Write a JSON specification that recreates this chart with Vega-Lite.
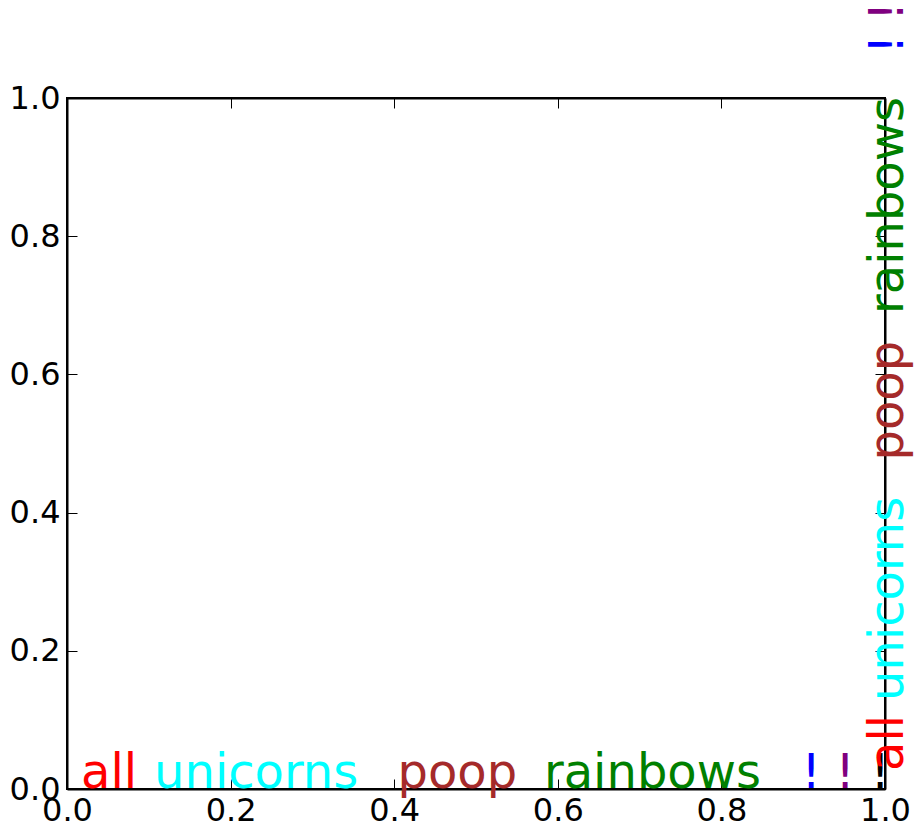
{
  "$schema": "https://vega.github.io/schema/vega-lite/v6.json",
  "width": 818,
  "height": 691,
  "autosize": {"type": "none"},
  "padding": {"left": 67, "top": 98, "right": 30, "bottom": 41},
  "background": "white",
  "config": {
    "view": {"stroke": "black", "strokeWidth": 2},
    "axis": {
      "domainColor": "black",
      "domainWidth": 2,
      "tickColor": "black",
      "tickWidth": 1,
      "tickSize": -10,
      "labelFont": "DejaVu Sans",
      "labelFontSize": 32,
      "labelColor": "black",
      "grid": false,
      "title": null,
      "labelFlush": false,
      "labelOverlap": false,
      "labelBound": false
    }
  },
  "datasets": {
    "horizontal": [
      {"word": "all", "part": 1, "x": 0.0171, "y": 0.0014},
      {"word": "unicorns", "part": 2, "x": 0.1064, "y": 0.0014},
      {"word": "poop", "part": 3, "x": 0.404, "y": 0.0014},
      {"word": "rainbows", "part": 4, "x": 0.5831, "y": 0.0014},
      {"word": "!", "part": 5, "x": 0.8978, "y": 0.0014},
      {"word": "!", "part": 6, "x": 0.9394, "y": 0.0014},
      {"word": "!", "part": 7, "x": 0.9822, "y": 0.0014}
    ],
    "vertical": [
      {"word": "all", "part": 1, "x": 1.022, "y": 0.026},
      {"word": "unicorns", "part": 2, "x": 1.022, "y": 0.1274},
      {"word": "poop", "part": 3, "x": 1.022, "y": 0.4754},
      {"word": "rainbows", "part": 4, "x": 1.022, "y": 0.6874},
      {"word": "!", "part": 5, "x": 1.022, "y": 1.0637},
      {"word": "!", "part": 6, "x": 1.022, "y": 1.1114}
    ]
  },
  "layer": [
    {
      "data": {"name": "horizontal"},
      "mark": {"type": "text", "font": "DejaVu Sans", "fontSize": 48, "align": "left", "baseline": "alphabetic", "clip": false},
      "encoding": {
        "x": {"field": "x", "type": "quantitative", "scale": {"domain": [0, 1], "nice": false, "zero": false},
              "axis": {"orient": "bottom", "values": [0, 0.2, 0.4, 0.6, 0.8, 1], "format": ".1f", "labelPadding": 16}},
        "y": {"field": "y", "type": "quantitative", "scale": {"domain": [0, 1], "nice": false, "zero": false},
              "axis": {"orient": "left", "values": [0, 0.2, 0.4, 0.6, 0.8, 1], "format": ".1f", "labelPadding": 17}},
        "text": {"field": "word", "type": "nominal"},
        "color": {"field": "part", "type": "ordinal",
                  "scale": {"domain": [1, 2, 3, 4, 5, 6, 7], "range": ["#ff0000", "#00ffff", "#a52a2a", "#008000", "#0000ff", "#800080", "#000000"]},
                  "legend": null}
      }
    },
    {
      "data": {"name": "vertical"},
      "mark": {"type": "text", "font": "DejaVu Sans", "fontSize": 48, "align": "left", "baseline": "alphabetic", "angle": 270, "clip": false},
      "encoding": {
        "x": {"field": "x", "type": "quantitative", "scale": {"domain": [0, 1], "nice": false, "zero": false},
              "axis": {"orient": "top", "values": [0, 0.2, 0.4, 0.6, 0.8, 1], "labels": false}},
        "y": {"field": "y", "type": "quantitative", "scale": {"domain": [0, 1], "nice": false, "zero": false},
              "axis": {"orient": "right", "values": [0, 0.2, 0.4, 0.6, 0.8, 1], "labels": false}},
        "text": {"field": "word", "type": "nominal"},
        "color": {"field": "part", "type": "ordinal",
                  "scale": {"domain": [1, 2, 3, 4, 5, 6, 7], "range": ["#ff0000", "#00ffff", "#a52a2a", "#008000", "#0000ff", "#800080", "#000000"]},
                  "legend": null}
      }
    }
  ],
  "resolve": {"axis": {"x": "independent", "y": "independent"}}
}
